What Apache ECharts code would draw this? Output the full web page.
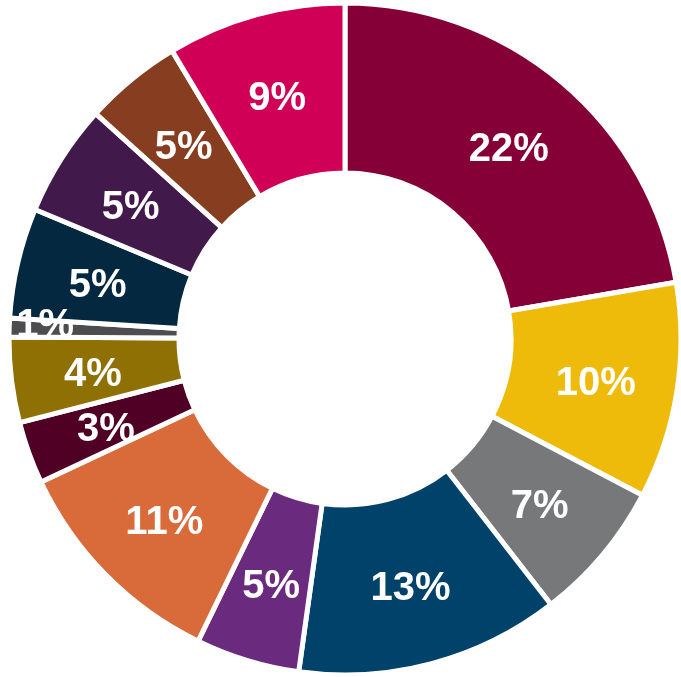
<!DOCTYPE html>
<html>
<head>
<meta charset="utf-8">
<script src="https://cdn.jsdelivr.net/npm/echarts@6/dist/echarts.min.js"></script>
<style>
  html, body { margin: 0; padding: 0; background: #fff; }
  #chart { width: 681px; height: 677px; }
</style>
</head>
<body>
<div id="chart"></div>
<script>
// slice shares (%), clockwise from 12 o'clock
var shares = [22.3, 10.4, 6.8, 12.7, 5.0, 10.8, 3.0, 4.1, 0.9, 5.3, 5.4, 4.7, 8.6];
var colors = ['#860038', '#EFBB0A', '#76787A', '#01426A', '#6A2A7E', '#D96B3B',
              '#4F0024', '#8F7004', '#4D4D4F', '#03283F', '#41194A', '#873D1F', '#CF0055'];
var centerText = 'Average\nASF =\n99,590';

var chart = echarts.init(document.getElementById('chart'));

var labelFont = {
    color: '#fff',
    fontFamily: '"Liberation Sans", Arial, sans-serif',
    fontWeight: 'bold',
    fontSize: 40
};

// the tiny slice gets its label drawn separately (near the rim)
var mainData = shares.map(function (v, i) {
    var d = { value: v, itemStyle: { color: colors[i] } };
    if (v < 2) d.label = { show: false };
    return d;
});

chart.setOption({
    animation: false,
    graphic: [{
        id: 'centerText',
        type: 'text',
        x: 345,
        y: 349,
        style: {
            text: centerText,
            fill: '#000',
            font: 'bold 42px "Liberation Sans", Arial, sans-serif',
            lineHeight: 50,
            align: 'center',
            verticalAlign: 'middle'
        }
    }],
    series: [{
        type: 'pie',
        center: [345, 339],
        radius: [166, 336],
        startAngle: 90,
        clockwise: true,
        avoidLabelOverlap: false,
        emphasis: { disabled: true },
        itemStyle: { borderColor: '#fff', borderWidth: 5 },
        label: {
            show: true,
            position: 'inside',
            // small spacer line nudges the value a few px down, like the original
            formatter: function (p) { return '{s| }\n{v|' + Math.round(p.value) + '%}'; },
            rich: {
                s: { fontSize: 2, lineHeight: 10 },
                v: Object.assign({ lineHeight: 46 }, labelFont)
            }
        },
        labelLine: { show: false },
        data: mainData
    }]
});

// place the small slice's label from the pie's own layout, close to the outer edge
var pieData = chart.getModel().getSeriesByIndex(0).getData();
var extra = [];
shares.forEach(function (v, i) {
    if (v >= 2) return;
    var lay = pieData.getItemLayout(i);
    var mid = (lay.startAngle + lay.endAngle) / 2;
    var rr = lay.r - 36;
    extra.push({
        type: 'text',
        z: 100,
        x: lay.cx + rr * Math.cos(mid),
        y: lay.cy + rr * Math.sin(mid) - 3,
        style: {
            text: Math.round(v) + '%',
            fill: '#fff',
            font: 'bold 40px "Liberation Sans", Arial, sans-serif',
            align: 'center',
            verticalAlign: 'middle'
        }
    });
});
chart.setOption({ graphic: extra });
</script>
</body>
</html>
